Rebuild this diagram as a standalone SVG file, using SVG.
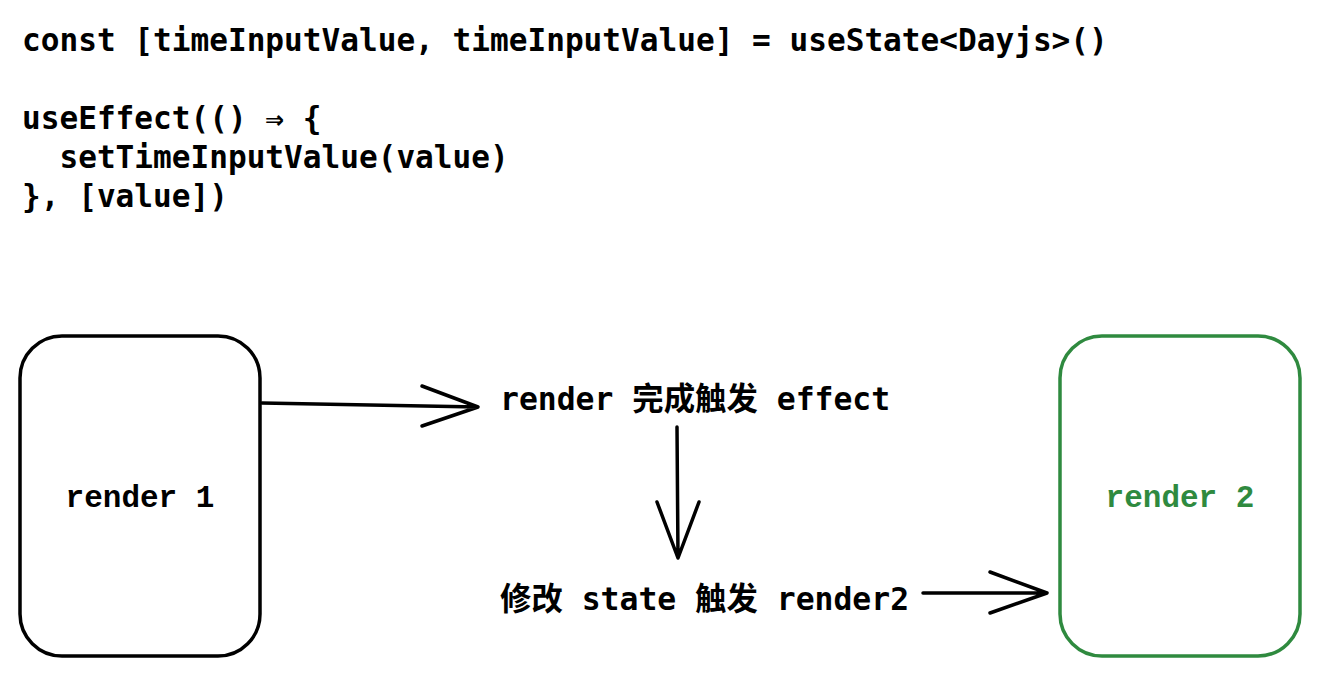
<svg xmlns="http://www.w3.org/2000/svg" width="1320" height="676" viewBox="0 0 1320 676">
<style>
.code{font-family:"DejaVu Sans Mono","Liberation Mono","Noto Sans CJK SC",monospace;font-size:31.1px;font-weight:bold;fill:#000}
.lbl{font-family:"DejaVu Sans Mono","Liberation Mono","Noto Sans CJK SC",monospace;font-size:31.4px;font-weight:bold;fill:#000}
.node{fill:#fff;stroke-width:3.5}
.c{fill:none;stroke:#000;stroke-width:3.5;stroke-linecap:round;stroke-linejoin:round}
</style>
<rect width="1320" height="676" fill="#fff"/>
<g id="code">
<text class="code" x="22" y="51">const [timeInputValue, timeInputValue] = useState&lt;Dayjs&gt;()</text>
<text class="code" x="22" y="129">useEffect(() ⇒ {</text>
<text class="code" x="22" y="168" xml:space="preserve">  setTimeInputValue(value)</text>
<text class="code" x="22" y="207">}, [value])</text>
</g>
<g id="render1">
<rect class="node" x="20" y="336" width="240" height="320" rx="42" stroke="#000"/>
<text x="140" y="507" text-anchor="middle" style="font-family:'Liberation Mono',monospace;font-size:31px;font-weight:bold;fill:#000">render 1</text>
</g>
<g id="render2">
<rect class="node" x="1060" y="336" width="240" height="320" rx="42" stroke="#2f8a3f"/>
<text x="1180" y="507" text-anchor="middle" style="font-family:'Liberation Mono',monospace;font-size:31px;font-weight:bold;fill:#2f8a3f">render 2</text>
</g>
<g id="effect">
<text class="lbl" x="500" y="410">render 完成触发 effect</text>
</g>
<g id="state">
<text class="lbl" x="500" y="610">修改 state 触发 render2</text>
</g>
<g id="connectors">
<path class="c" d="M262 403 L478 407 M422 386 L478 407 L422 426"/>
<path class="c" d="M677 427 L678 558 M657 502 L678 558 L699 502"/>
<path class="c" d="M923 593 L1047 593 M990 572 L1047 593 L990 613"/>
</g>
</svg>
